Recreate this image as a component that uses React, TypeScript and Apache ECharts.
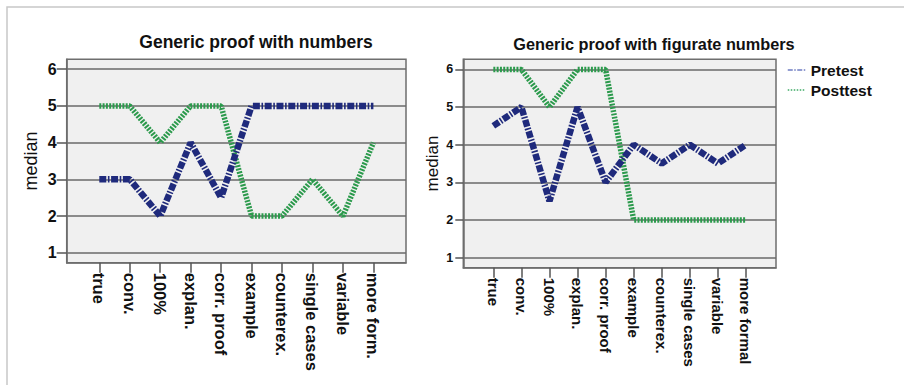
import React, { useEffect, useRef } from "react";
import * as echarts from "echarts";

const categoriesLeft = ["true", "conv.", "100%", "explan.", "corr. proof", "example", "counterex.", "single cases", "variable", "more form."];
const categoriesRight = ["true", "conv.", "100%", "explan.", "corr. proof", "example", "counterex.", "single cases", "variable", "more formal"];
const numbersPretest = [3, 3, 2, 4, 2.5, 5, 5, 5, 5, 5];
const numbersPosttest = [5, 5, 4, 5, 5, 2, 2, 3, 2, 4];
const figuratePretest = [4.5, 5, 2.5, 5, 3, 4, 3.5, 4, 3.5, 4];
const figuratePosttest = [6, 6, 5, 6, 6, 2, 2, 2, 2, 2];
const yTicks = [1, 2, 3, 4, 5, 6];
const titleLeft = "Generic proof with numbers";
const titleRight = "Generic proof with figurate numbers";
const yName = "median";

const FONT = 'Arial, "Liberation Sans", Helvetica, sans-serif';
const PRE_COLOR = "#1f2a7c";
const POST_COLOR = "#2b9a4c";
const PRE_DASH = [7, 1.6, 1.6, 1.6];
const POST_DASH = [2, 1.3];

function mkX(gridIndex: number, cats: string[], fontSize: number) {
  const idx = cats.map((_, i) => i);
  return {
    type: "value",
    gridIndex,
    min: -1.07,
    max: cats.length - 1 + 1.07,
    axisLine: { show: true, onZero: false, lineStyle: { color: "#6e6e6e", width: 1.5 } },
    axisTick: { show: true, customValues: idx, length: 10, lineStyle: { color: "#555", width: 1.5 } },
    axisLabel: {
      customValues: idx,
      rotate: -90,
      margin: 10,
      fontSize,
      fontWeight: "bold",
      color: "#111",
      fontFamily: FONT,
      formatter: (v: number) => cats[Math.round(v)] ?? "",
    },
    splitLine: { show: false },
  };
}

function mkY(gridIndex: number, fontSize: number, tickLen: number, nameGap: number, nameSize: number) {
  return {
    type: "value",
    gridIndex,
    min: 0.73,
    max: 6.27,
    name: yName,
    nameLocation: "middle",
    nameGap,
    nameTextStyle: { fontSize: nameSize, color: "#111", fontFamily: FONT },
    axisLine: { show: true, onZero: false, lineStyle: { color: "#6e6e6e", width: 1.5 } },
    axisTick: { show: true, customValues: yTicks, length: tickLen, lineStyle: { color: "#555", width: 1.5 } },
    axisLabel: { customValues: yTicks, margin: 10, fontSize, fontWeight: "bold", color: "#111", fontFamily: FONT },
    splitLine: { show: true, lineStyle: { color: "#6a6a6a", width: 1.6 } },
  };
}

function mkSeries(name: string, values: number[], idx: number, color: string, width: number, dash: number[]) {
  return {
    type: "line",
    name,
    xAxisIndex: idx,
    yAxisIndex: idx,
    data: values.map((v, i) => [i, v]),
    symbol: "none",
    lineStyle: { color, width, type: dash },
    itemStyle: { color },
    z: name === "Pretest" ? 3 : 2,
  };
}

export default function App() {
  const ref = useRef<HTMLDivElement>(null);
  useEffect(() => {
    if (!ref.current) return;
    const chart = echarts.init(ref.current, undefined, { renderer: "svg" });
    chart.setOption({
      animation: false,
      backgroundColor: "#ffffff",
      textStyle: { fontFamily: FONT },
      grid: [
        { left: 66.7, top: 59.3, width: 339.3, height: 203.4, show: true, backgroundColor: "#f0f0f0", borderColor: "#6e6e6e", borderWidth: 1.5 },
        { left: 463.3, top: 59.3, width: 312.7, height: 208.4, show: true, backgroundColor: "#f0f0f0", borderColor: "#6e6e6e", borderWidth: 1.5 },
      ],
      xAxis: [mkX(0, categoriesLeft, 16.5), mkX(1, categoriesRight, 15)],
      yAxis: [mkY(0, 16, 10, 27, 18), mkY(1, 12.5, 8, 22, 17)],
      legend: {
        orient: "vertical",
        left: 787,
        top: 62,
        padding: 0,
        itemWidth: 18,
        itemHeight: 14,
        itemGap: 4,
        textStyle: { fontSize: 15.5, fontWeight: "bold", color: "#111", fontFamily: FONT },
        data: [
          { name: "Pretest", itemStyle: { opacity: 0 }, lineStyle: { width: 1.5, type: [5, 1.5, 1.5, 1.5], color: "#6f7dc2" } },
          { name: "Posttest", itemStyle: { opacity: 0 }, lineStyle: { width: 1.5, type: [1.5, 1.5], color: "#3eaa64" } },
        ],
      },
      graphic: [
        { type: "rect", shape: { x: 7, y: 7, width: 1000, height: 1000 }, style: { fill: "none", stroke: "#c8c8c8", lineWidth: 1.5 }, silent: true },
        { type: "text", x: 256, y: 41.5, style: { text: titleLeft, font: `bold 17.5px ${FONT}`, fill: "#111", textAlign: "center", textVerticalAlign: "middle" } },
        { type: "text", x: 654, y: 44, style: { text: titleRight, font: `bold 16.3px ${FONT}`, fill: "#111", textAlign: "center", textVerticalAlign: "middle" } },
      ],
      series: [
        mkSeries("Posttest", numbersPosttest, 0, POST_COLOR, 5.5, POST_DASH),
        mkSeries("Pretest", numbersPretest, 0, PRE_COLOR, 6.5, PRE_DASH),
        mkSeries("Posttest", figuratePosttest, 1, POST_COLOR, 5.5, POST_DASH),
        mkSeries("Pretest", figuratePretest, 1, PRE_COLOR, 6.5, PRE_DASH),
      ],
    });
    return () => chart.dispose();
  }, []);
  return <div ref={ref} style={{ position: "absolute", left: 0, top: 0, width: 904, height: 385 }} />;
}
